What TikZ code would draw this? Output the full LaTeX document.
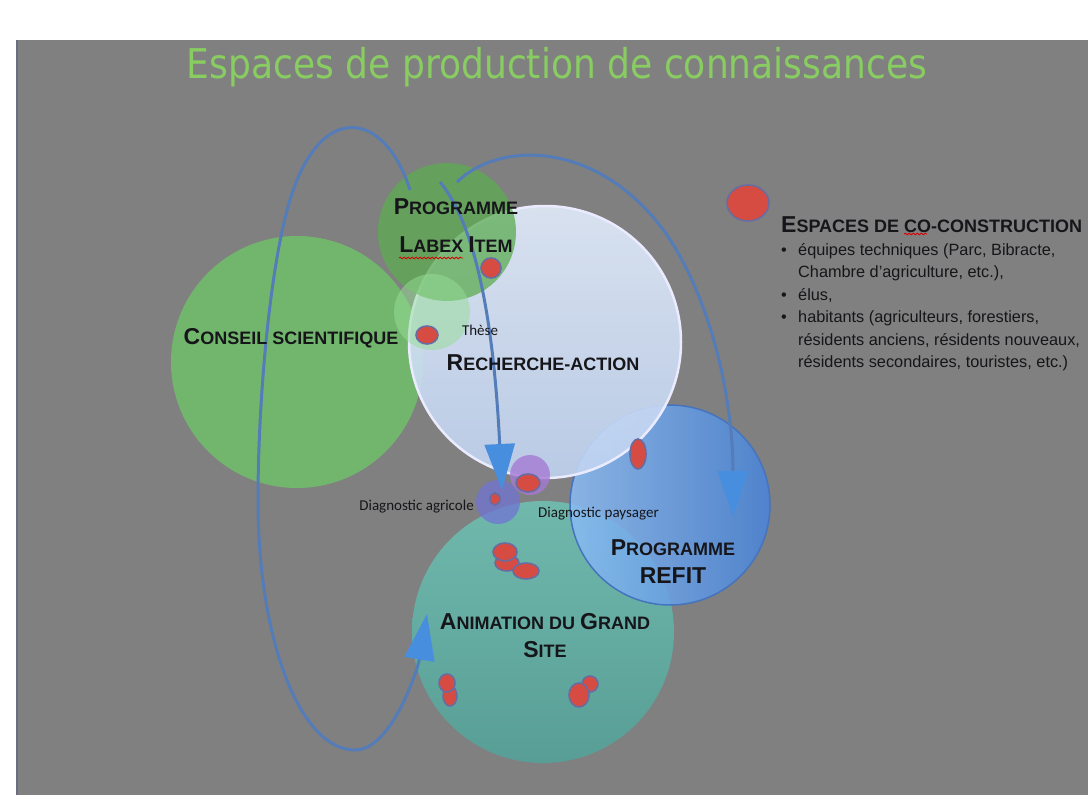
\documentclass[tikz,border=0pt]{standalone}
\usepackage{fontspec}
\setmainfont{Liberation Sans}
\newfontfamily\titlefont[FakeStretch=0.88]{DejaVu Sans}
\newfontfamily\notefont{Carlito}
\usetikzlibrary{arrows.meta,decorations.pathmorphing}

\definecolor{slidegray}{RGB}{128,128,128}
\definecolor{slideedge}{RGB}{105,110,128}
\definecolor{titlegreen}{RGB}{136,204,98}
\definecolor{conseilgreen}{RGB}{114,182,110}
\definecolor{labexgreen}{RGB}{92,172,82}
\definecolor{paleleaf}{RGB}{150,222,150}
\definecolor{rechtop}{RGB}{226,236,251}
\definecolor{rechbot}{RGB}{192,211,241}
\definecolor{refitlight}{RGB}{138,188,244}
\definecolor{refitdark}{RGB}{72,132,218}
\definecolor{refitrim}{RGB}{70,115,190}
\definecolor{animtop}{RGB}{112,184,172}
\definecolor{animbot}{RGB}{88,158,150}
\definecolor{paysagerpurple}{RGB}{165,122,212}
\definecolor{agricolepurple}{RGB}{112,116,212}
\definecolor{spotred}{RGB}{214,76,66}
\definecolor{spotrim}{RGB}{105,108,160}
\definecolor{flowblue}{RGB}{84,124,184}
\definecolor{tipblue}{RGB}{72,142,222}
\definecolor{inkdark}{RGB}{22,22,26}

% big first letter of the fake small caps
\newcommand{\capl}[1]{{\fontsize{23}{26}\selectfont #1}}

\tikzset{
  bubble/.style={circle, inner sep=0pt, draw=none},
  spot/.style={fill=spotred, draw=spotrim, line width=1.6pt},
  flow/.style={draw=flowblue, line width=3pt,
    -{Triangle[length=46pt,width=30pt,color=tipblue]}},
  bigcaps/.style={text=inkdark, font=\fontsize{18}{28}\selectfont\bfseries, align=center, inner sep=0pt},
  notetext/.style={text=inkdark, font=\notefont\fontsize{15}{18}\selectfont, inner sep=0pt},
  legendtext/.style={text=inkdark, font=\fontsize{16.3}{22.5}\selectfont, align=left, inner sep=0pt},
  spellmark/.style={draw=red!85!black, line width=0.8pt,
    decorate, decoration={snake, amplitude=0.9pt, segment length=4pt}}
}

\begin{document}
\begin{tikzpicture}[x=1pt,y=-1pt]
\useasboundingbox (0,0) rectangle (1088,795);
% slide background
\fill[white] (0,0) rectangle (1088,795);
\fill[slidegray] (16,40) rectangle (1088,795);
\draw[slideedge, line width=2.5pt] (17,40) -- (17,795);

% title
\node[text=titlegreen, font=\titlefont\fontsize{41}{44}\selectfont, inner sep=0pt] (title) at (557,67) {Espaces de production de connaissances};

% spaces
\node[bubble, fill=conseilgreen, minimum size=252pt] (conseil) at (297,362) {};
\node[bubble, top color=animtop, bottom color=animbot, minimum size=262pt] (animation) at (543,632) {};
\node[bubble, left color=refitlight, right color=refitdark, fill opacity=.85, draw=refitrim, line width=1.5pt, minimum size=200pt] (refit) at (670,505) {};
\node[bubble, top color=rechtop, bottom color=rechbot, fill opacity=.9, draw=white!92!blue, line width=2.5pt, minimum size=272pt] (recherche) at (545,342) {};
\node[bubble, fill=labexgreen, fill opacity=.75, minimum size=138pt] (labex) at (447,232) {};
\node[bubble, fill=paleleaf, fill opacity=.5, minimum size=76pt] (these) at (432,312) {};
\node[bubble, fill=paysagerpurple, fill opacity=.8, minimum size=40pt] (paysager) at (530,475) {};
\node[bubble, fill=agricolepurple, fill opacity=.75, minimum size=44pt] (agricole) at (498,502) {};

% co-construction spots
\path[spot] (748,203) ellipse [x radius=21, y radius=18];
\path[spot] (491,268) ellipse [x radius=10, y radius=10];
\path[spot] (427,335) ellipse [x radius=11, y radius=9];
\path[spot] (638,454) ellipse [x radius=8, y radius=15];
\path[spot] (528,483) ellipse [x radius=12, y radius=9];
\path[spot] (495,499) ellipse [x radius=5, y radius=6];
\path[spot] (507,563) ellipse [x radius=12, y radius=8];
\path[spot] (505,552) ellipse [x radius=12, y radius=9];
\path[spot] (526,571) ellipse [x radius=13, y radius=8];
\path[spot] (450,696) ellipse [x radius=7, y radius=10];
\path[spot] (447,683) ellipse [x radius=8, y radius=9];
\path[spot] (590,684) ellipse [x radius=8, y radius=8];
\path[spot] (579,695) ellipse [x radius=10, y radius=12];

% flows
\coordinate (loopstart) at (410,190);
\coordinate (loopend) at (427,614);
\coordinate (labexout) at (440,182);
\coordinate (diagin) at (502,490);
\coordinate (refitout) at (457,182);
\coordinate (refitin) at (733,517);
\draw[flow] (loopstart) .. controls (385,110) and (320,100) .. (290,200)
  .. controls (270,265) and (258,400) .. (258,500)
  .. controls (258,640) and (300,750) .. (355,750)
  .. controls (392,750) and (418,668) .. (loopend);
\draw[flow] (labexout) .. controls (478,228) and (494,330) .. (diagin);
\draw[flow] (refitout) .. controls (500,140) and (600,140) .. (667,235)
  .. controls (712,302) and (733,400) .. (refitin);

% labels
\node[bigcaps] (labexlabel) at (456,226) {\capl{P}ROGRAMME\\[10pt]\capl{L}ABEX \capl{I}TEM};
\node[bigcaps] (conseillabel) at (291,338) {\capl{C}ONSEIL SCIENTIFIQUE};
\node[bigcaps] (recherchelabel) at (543,363) {\capl{R}ECHERCHE-ACTION};
\node[bigcaps] (refitlabel) at (673,562) {\capl{P}ROGRAMME\\\capl{REFIT}};
\node[bigcaps] (animationlabel) at (545,636) {\capl{A}NIMATION DU \capl{G}RAND\\\capl{S}ITE};
\node[notetext] (theselabel) at (480,330) {Thèse};
\node[notetext, anchor=east] (agricolelabel) at (474,507) {Diagnostic agricole};
\node[notetext, anchor=west] (paysagerlabel) at (538,514) {Diagnostic paysager};
\draw[spellmark] (399,258) -- (463,258);

% legend
\node[bigcaps, anchor=west] (legendhead) at (781,225) {\capl{E}SPACES DE CO-CONSTRUCTION};
\draw[spellmark] (904,234) -- (927,234);
\node[legendtext, anchor=north west] (legendlist) at (781,243) {%
\makebox[17pt][l]{•}équipes techniques (Parc, Bibracte,\\
\hspace*{17pt}Chambre d'agriculture, etc.),\\
\makebox[17pt][l]{•}élus,\\
\makebox[17pt][l]{•}habitants (agriculteurs, forestiers,\\
\hspace*{17pt}résidents anciens, résidents nouveaux,\\
\hspace*{17pt}résidents secondaires, touristes, etc.)};
\end{tikzpicture}
\end{document}
